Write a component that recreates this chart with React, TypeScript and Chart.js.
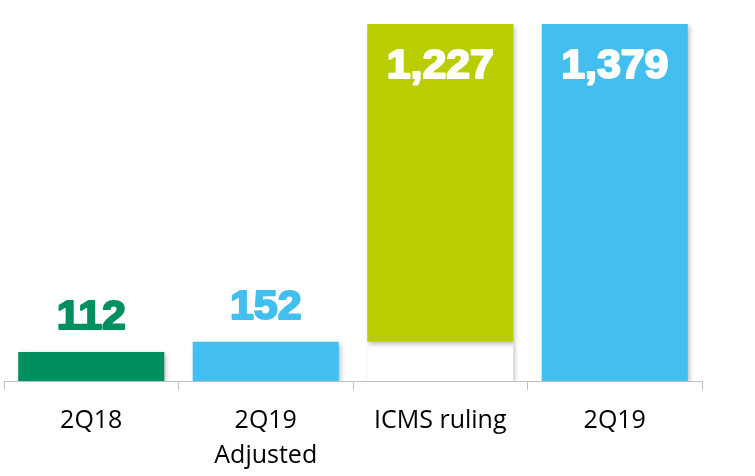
import React, { useEffect, useRef } from "react";
import { Chart, registerables } from "chart.js";

Chart.register(...registerables);

const categories: (string | string[])[] = ["2Q18", ["2Q19", "Adjusted"], "ICMS ruling", "2Q19"];
const barStarts = [0, 0, 152, 0];
const barEnds = [112, 152, 1379, 1379];
const baseUnderRuling: (number[] | null)[] = [null, null, [0, 152], null];
const valueLabels = ["112", "152", "1,227", "1,379"];
const barColors = ["#00905F", "#42BFEF", "#B9CD00", "#42BFEF"];
const labelColors = ["#00905F", "#42BFEF", "#FFFFFF", "#FFFFFF"];
const labelInside = [false, false, true, true];

const shadowPlugin = {
  id: "barShadow",
  beforeDatasetsDraw(chart: any) {
    const ctx = chart.ctx;
    ctx.save();
    ctx.shadowColor = "rgba(0,0,0,0.28)";
    ctx.shadowBlur = 5;
    ctx.shadowOffsetX = 2;
    ctx.shadowOffsetY = 2;
  },
  afterDatasetsDraw(chart: any) {
    chart.ctx.restore();
  },
};

const labelPlugin = {
  id: "valueLabels",
  afterDraw(chart: any) {
    const ctx = chart.ctx;
    const meta = chart.getDatasetMeta(0);
    meta.data.forEach((bar: any, i: number) => {
      const x = bar.x;
      const top = chart.scales.y.getPixelForValue(barEnds[i]);
      const y = labelInside[i] ? top + 54 : top - 23;
      ctx.save();
      ctx.translate(x, y);
      ctx.scale(1.07, 1);
      ctx.font = "bold 40px 'Liberation Sans', Arial, sans-serif";
      ctx.textAlign = "center";
      ctx.textBaseline = "alphabetic";
      ctx.lineJoin = "round";
      ctx.fillStyle = labelColors[i];
      ctx.strokeStyle = labelColors[i];
      ctx.lineWidth = 2;
      ctx.strokeText(valueLabels[i], 0, 0);
      ctx.fillText(valueLabels[i], 0, 0);
      ctx.restore();
    });
  },
};

export default function App() {
  const ref = useRef<HTMLCanvasElement | null>(null);
  useEffect(() => {
    if (!ref.current) return;
    const chart = new Chart(ref.current, {
      type: "bar",
      data: {
        labels: categories as any,
        datasets: [
          {
            data: barStarts.map((s, i) => [s, barEnds[i]]) as any,
            backgroundColor: barColors,
            barPercentage: 0.837,
            categoryPercentage: 1,
            grouped: false,
            order: 1,
          },
          {
            data: baseUnderRuling as any,
            backgroundColor: "#FFFFFF",
            barPercentage: 0.837,
            categoryPercentage: 1,
            grouped: false,
            order: 2,
          },
        ],
      },
      options: {
        responsive: false,
        animation: false,
        layout: { padding: { top: 24, left: 4, right: 53, bottom: 0 } },
        plugins: { legend: { display: false }, tooltip: { enabled: false } },
        scales: {
          x: {
            grid: {
              display: true,
              drawOnChartArea: false,
              drawTicks: true,
              tickLength: 9,
              color: "#BFBFBF",
              offset: true,
            },
            border: { display: true, color: "#BFBFBF", width: 1 },
            ticks: {
              color: "#000000",
              padding: 13,
              font: { family: "'Open Sans', sans-serif", size: 25, lineHeight: 1.42 },
              maxRotation: 0,
              autoSkip: false,
            },
            afterFit: (scale: any) => {
              scale.height = 95;
            },
          },
          y: {
            display: false,
            min: 0,
            max: 1379,
          },
        },
      },
      plugins: [shadowPlugin, labelPlugin],
    });
    return () => chart.destroy();
  }, []);
  return (
    <div style={{ position: "fixed", left: 0, top: 0, width: 755, height: 476, background: "#fff" }}>
      <canvas ref={ref} width={755} height={476} />
    </div>
  );
}
